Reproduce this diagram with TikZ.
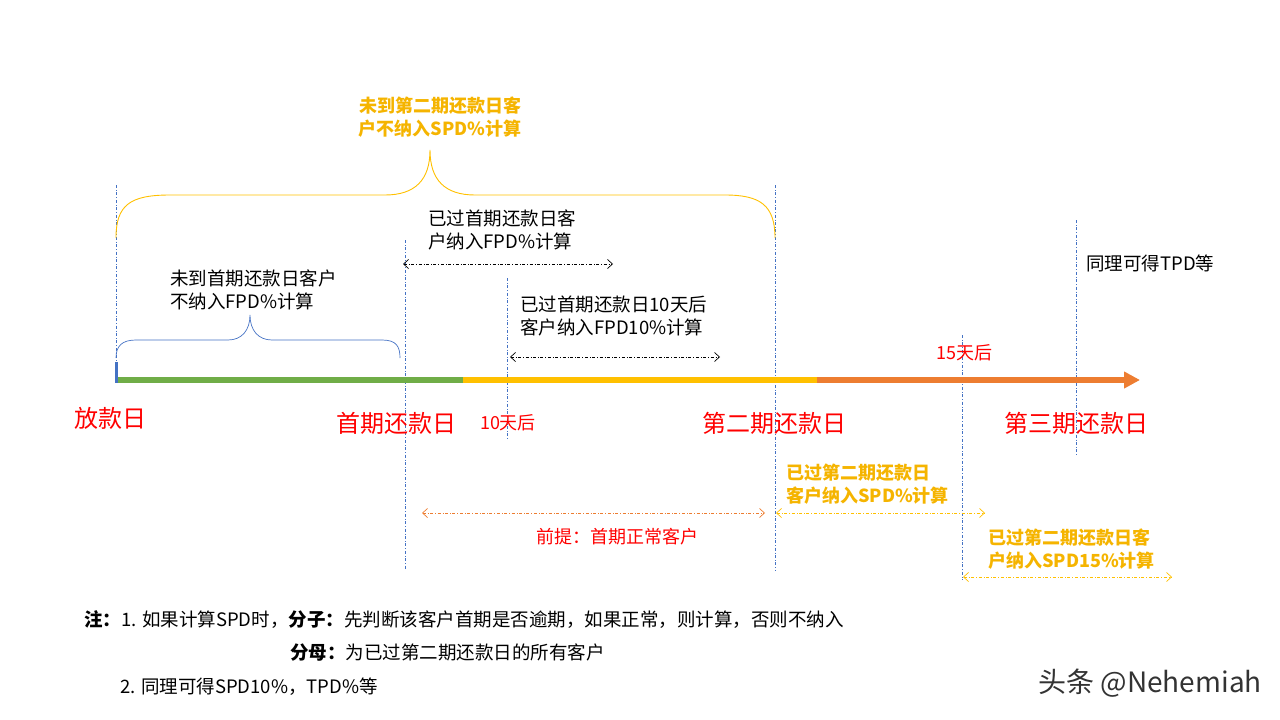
\documentclass[tikz,border=0pt]{standalone}
\usepackage{fontspec}
\setmainfont{Noto Sans CJK SC}
\usetikzlibrary{arrows.meta}
\definecolor{gr}{HTML}{70AD47}
\definecolor{yl}{HTML}{FFC000}
\definecolor{or}{HTML}{ED7D31}
\definecolor{bl}{HTML}{4472C4}
\definecolor{ylt}{HTML}{F5B400}
\begin{document}
\begin{tikzpicture}[x=1pt,y=-1pt,
 vl/.style={draw=bl,dash dot,line width=0.6pt},
 rng/.style={dash dot,line width=0.7pt,{Straight Barb[length=5pt,width=9pt]}-{Straight Barb[length=5pt,width=9pt]}},
 txt/.style={font=\fontsize{18.5}{23}\selectfont,align=left,anchor=north west,inner sep=0},
 ytxt/.style={font=\fontsize{18}{23}\selectfont\bfseries,text=ylt,align=left,inner sep=0},
 rtxt/.style={font=\fontsize{24}{28}\selectfont,text=red,inner sep=0},
 stxt/.style={text=red,font=\fontsize{18}{22}\selectfont,inner sep=0},
 ntxt/.style={font=\fontsize{18.5}{22}\selectfont,anchor=west,inner sep=0}]
\useasboundingbox (0,0) rectangle (1280,720);
% vertical lines
\coordinate (v1a) at (116,185); \coordinate (v1b) at (116,380);
\coordinate (v2a) at (405,240); \coordinate (v2b) at (405,570);
\coordinate (v3a) at (507,278); \coordinate (v3b) at (507,440);
\coordinate (v4a) at (775,185); \coordinate (v4b) at (775,570);
\coordinate (v5a) at (962,335); \coordinate (v5b) at (962,580);
\coordinate (v6a) at (1076,220); \coordinate (v6b) at (1076,455);
\foreach \i in {1,...,6} \draw[vl] (v\i a) -- (v\i b);
% timeline
\coordinate (t0) at (116,380); \coordinate (t1) at (463,380);
\coordinate (t2) at (817,380); \coordinate (t3) at (1140,380);
\draw[gr,line width=6pt] (t0) -- (t1);
\draw[yl,line width=6pt] (t1) -- (t2);
\draw[or,line width=6pt,-{Triangle[length=16pt,width=16pt]}] (t2) -- (t3);
\draw[bl,line width=3pt] (116,362) -- (116,383);
% braces
\draw[yl,line width=0.9pt] (116,238) .. controls (116,205) and (130,195) .. (170,195)
  -- (385,195) .. controls (415,195) and (430,180) .. (430,150)
  .. controls (430,180) and (445,195) .. (475,195) -- (725,195)
  .. controls (760,195) and (775,205) .. (775,238);
\draw[bl,line width=0.7pt] (116,358) .. controls (116,346) and (122,340) .. (136,340)
  -- (228,340) .. controls (242,340) and (250,330) .. (250,315)
  .. controls (250,330) and (258,340) .. (272,340) -- (382,340)
  .. controls (396,340) and (400,346) .. (400,358);
\node[ytxt,align=center] (top) at (440,117) {未到第二期还款日客\\户不纳入SPD\%计算};
\node[txt] (a) at (170,270) {未到首期还款日客户\\不纳入FPD\%计算};
\node[txt] (b) at (428,210) {已过首期还款日客\\户纳入FPD\%计算};
\node[txt] (c) at (520,296) {已过首期还款日10天后\\客户纳入FPD10\%计算};
\node[txt] (d) at (1086,255) {同理可得TPD等};
% ranges
\coordinate (r1a) at (403,264); \coordinate (r1b) at (613,264);
\coordinate (r2a) at (510,357); \coordinate (r2b) at (720,357);
\coordinate (r3a) at (422,513); \coordinate (r3b) at (765,513);
\coordinate (r4a) at (776,513); \coordinate (r4b) at (985,513);
\coordinate (r5a) at (963,577); \coordinate (r5b) at (1172,577);
\draw[rng] (r1a) -- (r1b);
\draw[rng] (r2a) -- (r2b);
\draw[rng,or] (r3a) -- (r3b);
\draw[rng,yl] (r4a) -- (r4b);
\draw[rng,yl] (r5a) -- (r5b);
% red labels
\node[rtxt] (l0) at (110,418) {放款日};
\node[rtxt] (l1) at (396,423) {首期还款日};
\node[rtxt] (l2) at (774,423) {第二期还款日};
\node[rtxt] (l3) at (1076,423) {第三期还款日};
\node[stxt] (l4) at (508,423) {10天后};
\node[stxt] (l5) at (964,353) {15天后};
\node[stxt] (l6) at (617,537) {前提：首期正常客户};
\node[ytxt,anchor=west] (y1) at (786,484) {已过第二期还款日\\客户纳入SPD\%计算};
\node[ytxt,anchor=west] (y2) at (988,549) {已过第二期还款日客\\户纳入SPD15\%计算};
% notes
\node[ntxt] (n1) at (84,620) {\textbf{注：}1. 如果计算SPD时，\textbf{分子：}先判断该客户首期是否逾期，如果正常，则计算，否则不纳入};
\node[ntxt] (n2) at (290,653) {\textbf{分母：}为已过第二期还款日的所有客户};
\node[ntxt] (n3) at (120,687) {2. 同理可得SPD10\%，TPD\%等};
\node[font=\fontsize{28}{32}\selectfont,text=black!80,anchor=east,inner sep=0] (wm) at (1262,683) {头条 @Nehemiah};
\end{tikzpicture}
\end{document}
